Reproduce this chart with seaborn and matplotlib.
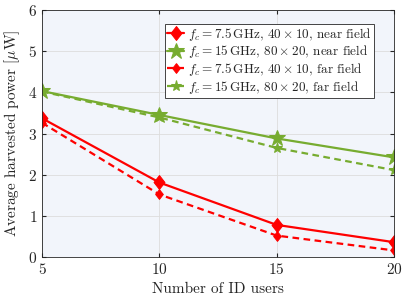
import matplotlib
matplotlib.use("Agg")
import matplotlib.pyplot as plt
import pandas as pd
import seaborn as sns

users = [5, 10, 15, 20]
red_near = [3.37, 1.81, 0.78, 0.36]
green_near = [4.03, 3.45, 2.88, 2.42]
red_far = [3.26, 1.52, 0.52, 0.16]
green_far = [4.02, 3.39, 2.65, 2.11]

labels = [
    r"$f_c = 7.5\,\mathrm{GHz}$, $40\times10$, near field",
    r"$f_c = 15\,\mathrm{GHz}$, $80\times20$, near field",
    r"$f_c = 7.5\,\mathrm{GHz}$, $40\times10$, far field",
    r"$f_c = 15\,\mathrm{GHz}$, $80\times20$, far field",
]

sns.set_style("ticks")
plt.rcParams["font.family"] = "serif"
plt.rcParams["font.serif"] = ["cmr10", "DejaVu Serif"]
plt.rcParams["mathtext.fontset"] = "cm"
plt.rcParams["axes.formatter.use_mathtext"] = True

red = "#FF0000"
green = "#77AC30"
# MATLAB-like diamond, a little taller than wide
diamond = [(0, 1), (0.78, 0), (0, -1), (-0.78, 0), (0, 1)]
series = [
    (red_near, red, "-", diamond, 10),
    (green_near, green, "-", "*", 12),
    (red_far, red, "--", diamond, 7),
    (green_far, green, "--", "*", 8),
]

fig = plt.figure(figsize=(4.07, 2.95), dpi=100)
ax = fig.add_axes([42 / 407, 38 / 295, 352 / 407, 247 / 295])
ax.set_facecolor("#F2F5FB")

for (vals, col, ls, mk, ms), lab in zip(series, labels):
    df = pd.DataFrame({"x": users, "y": vals})
    line = sns.lineplot(data=df, x="x", y="y", ax=ax, color=col, linestyle=ls,
                        marker=mk, markersize=ms, markeredgecolor=col,
                        linewidth=1.6, label=lab).lines[-1]
    if ls == "--":
        line.set_dashes((3, 2))

ax.set_xlim(5, 20)
ax.set_ylim(0, 6)
ax.set_xticks([5, 10, 15, 20])
ax.set_yticks(range(0, 7))
ax.grid(True, color="#DDDDDD", linewidth=0.6)
ax.tick_params(direction="in", labelsize=11, colors="#262626", length=3,
               top=True, right=True)
for s in ax.spines.values():
    s.set_color("#262626")
    s.set_linewidth(0.6)
ax.set_xlabel("Number of ID users", fontsize=11)
ax.set_ylabel(r"Average harvested power [$\mu$W]", fontsize=11)
leg = ax.legend(loc="upper right", bbox_to_anchor=(0.943, 0.945), fontsize=9.5,
                frameon=True, fancybox=False, edgecolor="#262626",
                framealpha=1, handlelength=1.3, handletextpad=0.3,
                borderpad=0.15, labelspacing=0.05, borderaxespad=0)
leg.get_frame().set_linewidth(0.6)

fig.savefig("out.png", dpi=100)
